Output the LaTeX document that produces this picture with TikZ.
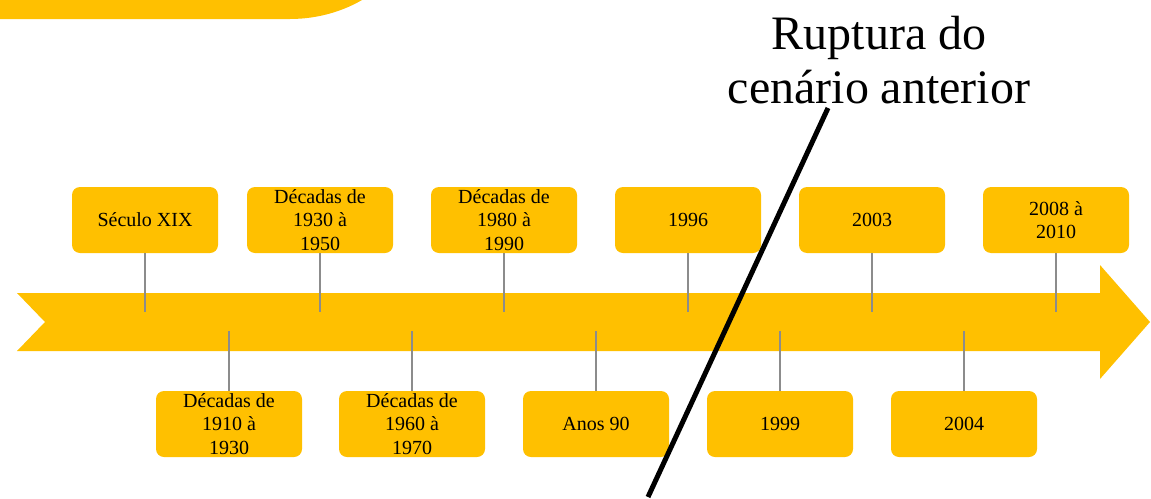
\documentclass[tikz,border=0pt]{standalone}
\usepackage{fontspec}
\setmainfont{Liberation Serif}
\definecolor{gold}{HTML}{FFC000}
\definecolor{stemgray}{HTML}{8C8C8C}
\begin{document}
\begin{tikzpicture}[x=1pt,y=-1pt,
 evbox/.style={fill=gold, rounded corners=8pt, minimum width=146pt, minimum height=66pt, inner sep=0pt, align=center, font=\fontsize{20}{23.5}\selectfont},
 stemline/.style={draw=stemgray, line width=2pt},
 cutline/.style={draw=black, line width=5pt}]
\useasboundingbox (0,0) rectangle (1151,498);
% top-left banner
\fill[gold] (0,0) -- (0,19) -- (290,19) .. controls (320,19) and (345,10) .. (362,0) -- cycle;
% timeline arrow
\fill[gold] (17,293) -- (1100,293) -- (1100,265) -- (1150,322) -- (1100,379) -- (1100,351) -- (17,351) -- (45,322) -- cycle;
% top boxes
\node[evbox] (t1) at (145,220) {Século XIX};
\node[evbox] (t2) at (320,220) {Décadas de\\1930 à\\1950};
\node[evbox] (t3) at (504,220) {Décadas de\\1980 à\\1990};
\node[evbox] (t4) at (688,220) {1996};
\node[evbox] (t5) at (872,220) {2003};
\node[evbox] (t6) at (1056,220) {2008 à\\2010};
% bottom boxes
\node[evbox] (b1) at (229,424) {Décadas de\\1910 à\\1930};
\node[evbox] (b2) at (412,424) {Décadas de\\1960 à\\1970};
\node[evbox] (b3) at (596,424) {Anos 90};
\node[evbox] (b4) at (780,424) {1999};
\node[evbox] (b5) at (964,424) {2004};
% stem ends
\foreach \n/\x in {t1/145,t2/320,t3/504,t4/688,t5/872,t6/1056}{
  \coordinate (\n e) at (\x,312);
  \draw[stemline] (\n.south) -- (\n e);
}
\foreach \n/\x in {b1/229,b2/412,b3/596,b4/780,b5/964}{
  \coordinate (\n e) at (\x,331);
  \draw[stemline] (\n e) -- (\n.north);
}
% title
\node[align=center, font=\fontsize{48}{54}\selectfont, inner sep=0pt] (title) at (879,60) {Ruptura do\\cenário anterior};
% cut line
\coordinate (cutA) at (828,108);
\coordinate (cutB) at (648,497);
\draw[cutline] (cutA) -- (cutB);
\end{tikzpicture}
\end{document}
